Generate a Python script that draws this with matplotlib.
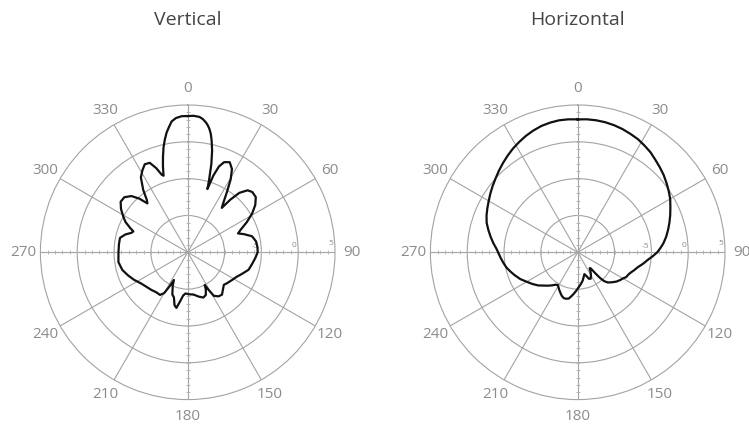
import matplotlib
matplotlib.use("Agg")
import matplotlib.pyplot as plt
import numpy as np

plt.rcParams['font.family'] = ['Open Sans', 'DejaVu Sans']

# Vertical pattern (angle in degrees clockwise from top, gain in dB)
vertical_angle = [0, 2.5, 5, 6.5, 8, 9, 10, 11, 12, 13.5, 15, 16.5, 17.3, 18.5, 20, 22,
                  25, 28, 30.5, 33, 35.5, 37.5, 39, 41, 44, 47, 51, 55, 59, 63, 67,
                  69.5, 72, 76, 81, 86, 90, 95, 100, 106, 112, 117, 122, 128, 132, 137,
                  141, 145, 149, 151, 152.5, 154, 157, 161, 166, 172, 178, 183, 186,
                  189, 191.5, 194, 197, 200, 204, 206.5, 208, 210, 213, 218, 224, 230,
                  236, 243, 249, 255, 262, 270, 277, 282, 286, 289, 291, 293, 296, 299,
                  303, 307, 311, 315, 318, 320.5, 322, 324.5, 328, 331, 334, 337, 339.5,
                  341.5, 342.5, 344, 345.5, 347, 348.5, 350, 351.5, 353, 355, 357.5, 360]
vertical_db = [3.5, 3.55, 3.45, 3.2, 2.8, 2.45, 2.0, 1.4, 0.6, -0.8, -2.6, -4.8, -6.0,
               -4.0, -2.6, -1.8, -1.5, -2.2, -3.5, -5.2, -6.6, -7.4, -5.8, -4.3, -3.3,
               -3.0, -3.1, -3.8, -4.8, -6.0, -7.2, -7.7, -7.0, -6.0, -5.6, -5.5, -5.5,
               -5.8, -6.1, -6.4, -7.1, -7.6, -7.9, -8.2, -8.4, -8.0, -7.6, -7.7, -8.1,
               -9.2, -10.0, -9.4, -8.7, -8.5, -8.8, -9.2, -9.3, -9.4, -9.1, -8.2, -7.3,
               -7.6, -8.6, -8.9, -10.0, -10.8, -9.8, -8.6, -8.1, -8.1, -7.9, -7.7, -7.4,
               -6.8, -6.3, -5.8, -5.5, -5.6, -5.6, -5.6, -6.2, -6.9, -7.1, -6.5, -5.6,
               -5.0, -4.2, -3.6, -3.6, -4.2, -5.2, -6.4, -6.0, -4.6, -3.0, -2.3, -1.7,
               -1.8, -2.8, -3.9, -4.1, -2.8, -1.6, -0.4, 0.6, 1.5, 2.2, 2.9, 3.3, 3.5,
               3.5]

# Horizontal pattern
horizontal_angle = [0, 4, 8, 12, 16, 20, 24, 28, 32, 36, 40, 44, 48, 52, 56, 60, 64,
                    68, 72, 76, 80, 84, 87, 90, 93, 96, 100, 104, 108, 111, 114, 117,
                    120, 123, 127, 131, 135, 137.5, 139, 140, 141, 143, 146, 150, 154,
                    157, 160, 163, 166, 170, 174, 178, 182, 185, 188, 191, 194, 197,
                    200, 203, 206, 209, 211, 214, 218, 222, 226, 230, 235, 240, 245,
                    250, 254, 258, 262, 266, 270, 273, 276, 280, 284, 288, 292, 296,
                    300, 304, 308, 312, 316, 320, 324, 328, 332, 336, 340, 344, 348,
                    352, 356, 360]
horizontal_db = [3.05, 3.1, 3.1, 3.05, 2.95, 2.8, 2.6, 2.4, 2.1, 1.8, 1.4, 1.05, 0.7,
                 0.3, -0.1, -0.5, -1.0, -1.45, -1.9, -2.35, -2.8, -3.3, -3.75, -4.2,
                 -4.8, -5.4, -6.0, -6.6, -7.0, -7.3, -7.5, -7.6, -7.9, -8.1, -8.4,
                 -8.8, -9.2, -9.7, -10.4, -11.3, -12.2, -12.3, -11.9, -11.4, -11.0,
                 -11.1, -11.6, -11.9, -11.6, -11.1, -10.7, -10.3, -9.8, -9.4, -9.0,
                 -8.6, -8.5, -8.5, -8.7, -9.0, -9.3, -9.6, -9.8, -9.7, -9.3, -8.9,
                 -8.5, -8.0, -7.5, -7.0, -6.4, -5.9, -5.5, -5.1, -4.8, -4.5, -4.2,
                 -3.9, -3.5, -3.0, -2.5, -2.0, -1.65, -1.35, -1.05, -0.7, -0.35, 0.0,
                 0.4, 0.8, 1.2, 1.6, 1.95, 2.3, 2.6, 2.85, 3.0, 3.1, 3.1, 3.05]

titles = ["Vertical", "Horizontal"]
angle_ticks = list(range(0, 360, 30))
ring_values = [-10, -5, 0]
ring_labels = ["-5", "0", "5"]
ring_label_pos = [-5, 0, 5]
r_min, r_max = -15, 5

GRID = '#a3a3a3'
LABEL = '#8c8c8c'

fig = plt.figure(figsize=(7.49, 4.33), dpi=100)

centers_x = [187.7, 577.7]
center_y = 252.3
radius_px = 147.3
W, H = 749, 433

series = [(vertical_angle, vertical_db), (horizontal_angle, horizontal_db)]

for i, (ang, db) in enumerate(series):
    left = (centers_x[i] - radius_px) / W
    bottom = (H - center_y - radius_px) / H
    ax = fig.add_axes([left, bottom, 2 * radius_px / W, 2 * radius_px / H],
                      projection='polar')
    ax.set_theta_zero_location('N')
    ax.set_theta_direction(-1)
    ax.set_ylim(r_min, r_max)

    ax.set_thetagrids(angle_ticks, labels=[str(a) for a in angle_ticks])
    ax.set_rgrids(ring_values, labels=[''] * len(ring_values))
    ax.grid(True, color=GRID, linewidth=0.8)
    ax.spines['polar'].set_color(GRID)
    ax.spines['polar'].set_linewidth(0.8)
    ax.tick_params(axis='x', colors=LABEL, labelsize=11, pad=1.5)
    ax.tick_params(axis='y', length=0)

    # small tick marks along the main axes, every 1 dB
    tick_r = np.arange(r_min + 1, r_max, 1)
    for a in (0, 180):
        ax.plot(np.full(tick_r.shape, np.deg2rad(a)), tick_r, linestyle='none',
                marker='_', markersize=3.5, color='#b5b5b5', markeredgewidth=0.7)
    for a in (90, 270):
        ax.plot(np.full(tick_r.shape, np.deg2rad(a)), tick_r, linestyle='none',
                marker='|', markersize=3.5, color='#b5b5b5', markeredgewidth=0.7)

    for lbl, rv in zip(ring_labels, ring_label_pos):
        ax.text(np.deg2rad(88), rv - 0.25, lbl, ha='right', va='bottom',
                fontsize=6, color=LABEL)

    ax.plot(np.deg2rad(ang), db, color='#111111', linewidth=1.6, zorder=5)

    fig.text(centers_x[i] / W, 1 - 20 / H, titles[i], ha='center', va='center',
             fontsize=14, color='#444444')

fig.savefig("out.png", dpi=100)
